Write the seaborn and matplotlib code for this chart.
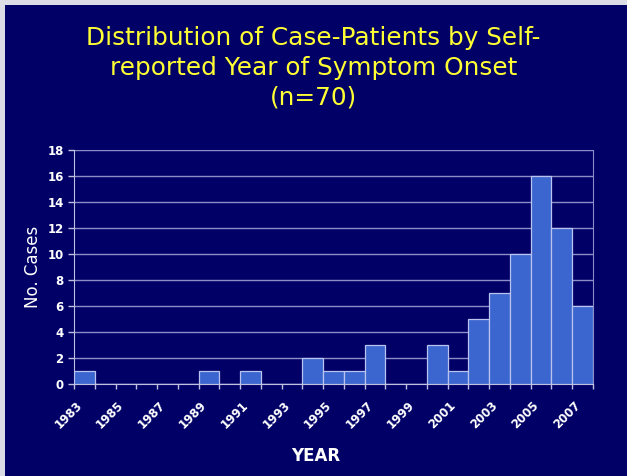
import numpy as np
import pandas as pd
import seaborn as sns
import matplotlib.pyplot as plt
import matplotlib.transforms as mtransforms
from matplotlib.patches import Rectangle

years = [str(y) for y in range(1983, 2008)]
cases = [1, 0, 0, 0, 0, 0, 1, 0, 1, 0, 0, 2, 1, 1, 3, 0, 0, 3, 1, 5, 7, 10, 16, 12, 6]
title = 'Distribution of Case-Patients by Self-\nreported Year of Symptom Onset\n(n=70)'

navy = '#000066'
bar_color = '#3b65cf'
grid_color = '#8c8cc8'
axis_color = '#c0c0e0'

df = pd.DataFrame({'Year': years, 'Cases': cases})

sns.set_style('white')
plt.rcParams['font.family'] = ['DejaVu Sans']

fig = plt.figure(figsize=(6.27, 4.76), dpi=100)
fig.patch.set_facecolor('#dcdce6')
fig.patches.append(Rectangle((5 / 627, 0), 1, 1 - 5 / 476, transform=fig.transFigure,
                             facecolor=navy, edgecolor='none', zorder=-10))

ax = fig.add_axes([74 / 627, 1 - 384 / 476, (593 - 74) / 627, (384 - 150) / 476])
ax.set_facecolor(navy)

sns.barplot(data=df, x='Year', y='Cases', color=bar_color, width=1.0,
            edgecolor='#b8c4ee', linewidth=0.9, saturation=1, ax=ax, zorder=3)

ax.set_ylim(0, 18)
ax.set_xlim(-0.5, len(years) - 0.5)
ax.set_yticks(range(0, 19, 2))
ax.yaxis.grid(True, color=grid_color, linewidth=1, zorder=0)
ax.set_axisbelow(True)

# labels every other year, tick marks between categories
ax.set_xticks(range(0, len(years), 2))
ax.set_xticklabels(years[::2], rotation=45, ha='right', va='center', rotation_mode='anchor')
ax.set_xticks(np.arange(-0.5, len(years), 1), minor=True)
ax.tick_params(bottom=True, left=True)
ax.tick_params(axis='x', which='major', length=0, pad=14, labelsize=8.5, colors='white')
ax.tick_params(axis='x', which='minor', bottom=True, length=3.5, width=1, color=axis_color,
               direction='out')
ax.tick_params(axis='y', length=4, width=1, direction='out', labelsize=8.5, colors='white')
ax.tick_params(axis='y', which='major', color=axis_color)
shift = mtransforms.ScaledTranslation(-4 / 100, 0, fig.dpi_scale_trans)
for lbl in ax.get_xticklabels():
    lbl.set_fontweight('bold')
    lbl.set_transform(lbl.get_transform() + shift)
for lbl in ax.get_yticklabels():
    lbl.set_fontweight('bold')

ax.spines['top'].set_visible(False)
ax.spines['right'].set_color(grid_color)
ax.spines['left'].set_color(axis_color)
ax.spines['bottom'].set_color(axis_color)

ax.set_xlabel('YEAR', color='white', fontsize=12, fontweight='bold', labelpad=14)
ax.xaxis.set_label_coords((316 - 74) / 519, -0.27)
ax.set_ylabel('No. Cases', color='white', fontsize=12, labelpad=4)

fig.text(0.5, 0.857, title, color='#ffff33', fontsize=17.8, ha='center', va='center',
         linespacing=1.3)

fig.savefig('out.png', dpi=100, facecolor=fig.get_facecolor())
